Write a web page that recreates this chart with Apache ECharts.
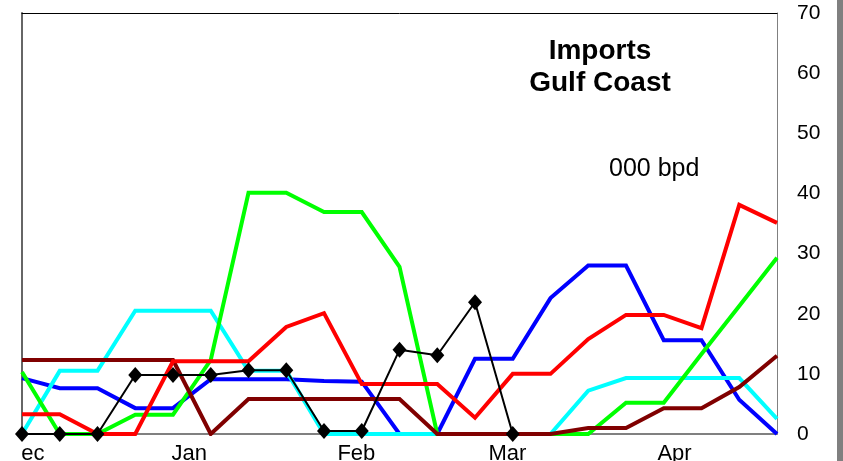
<!DOCTYPE html>
<html>
<head>
<meta charset="utf-8">
<script src="https://cdn.jsdelivr.net/npm/echarts@6/dist/echarts.min.js"></script>
<style>
  html, body { margin: 0; padding: 0; background: #fff; }
  #chart { width: 843px; height: 461px; }
</style>
</head>
<body>
<div id="chart"></div>
<script>
// weekly points, days after 1 Dec
const weekDays = [0, 7, 14, 21, 28, 35, 42, 49, 56, 63, 70, 77, 84, 91, 98, 105, 112, 119, 126, 133, 140];
// month tick labels (days) - the "D" of Dec is cut off in the original
const monthDays = [2, 31, 62, 90, 121];
const monthNames = ['ec', 'Jan', 'Feb', 'Mar', 'Apr'];

// 000 bpd
const blueVals = [9.3, 7.6, 7.6, 4.3, 4.3, 9.1, 9.1, 9.1, 8.8, 8.7, 0, 0, 12.5, 12.5, 22.6, 28, 28, 15.6, 15.6, 5.7, 0];
const cyanVals = [0, 10.5, 10.5, 20.5, 20.5, 20.5, 10.5, 10.5, 0, 0, 0, 0, 0, 0, 0, 7.2, 9.3, 9.3, 9.3, 9.3, 2.5];
const greenVals = [10.3, 0, 0, 3.2, 3.2, 12.3, 40.1, 40.1, 36.9, 36.9, 27.8, 0, 0, 0, 0, 0, 5.2, 5.2, 13.3, 21.3, 29.3];
const darkRedVals = [12.3, 12.3, 12.3, 12.3, 12.3, 0, 5.8, 5.8, 5.8, 5.8, 5.8, 0, 0, 0, 0, 1.0, 1.0, 4.3, 4.3, 7.8, 13.0];
const redVals = [3.3, 3.3, 0, 0, 12.1, 12.1, 12.1, 17.8, 20.1, 8.3, 8.3, 8.3, 2.7, 10.0, 10.0, 15.8, 19.8, 19.8, 17.6, 38.1, 35.1];
const blackVals = [0, 0, 0, 9.8, 9.8, 9.8, 10.6, 10.6, 0.5, 0.5, 14.0, 13.1, 21.9, 0, null, null, null, null, null, null, null];

const FONT = 'Liberation Sans, Arial, sans-serif';

function pairs(vals) {
  return weekDays.map((d, i) => [d, vals[i]]);
}

function lineSeries(name, vals, color) {
  return {
    name: name,
    type: 'line',
    data: pairs(vals),
    showSymbol: false,
    symbol: 'none',
    lineStyle: { color: color, width: 4, join: 'miter' },
    itemStyle: { color: color },
    animation: false
  };
}

const chart = echarts.init(document.getElementById('chart'));

chart.setOption({
  backgroundColor: '#fff',
  animation: false,
  title: {
    text: 'Imports\nGulf Coast',
    left: 600,
    top: 35,
    padding: 0,
    textAlign: 'center',
    textStyle: { fontFamily: FONT, fontSize: 28, fontWeight: 'bold', color: '#000', lineHeight: 32 }
  },
  graphic: [
    {
      type: 'text',
      left: 609,
      top: 157,
      style: { text: '000 bpd', fontFamily: FONT, fontSize: 25, fill: '#000' }
    },
    {
      type: 'rect',
      right: 0,
      top: 0,
      shape: { width: 6, height: 461 },
      style: { fill: '#808080' }
    }
  ],
  grid: { left: 22, right: 66, top: 13, bottom: 27, outerBoundsMode: 'none' },
  xAxis: [
    {
      type: 'value',
      min: 0,
      max: 140,
      position: 'bottom',
      axisLine: { show: true, onZero: false, lineStyle: { color: '#808080', width: 2 } },
      axisTick: { show: false },
      splitLine: { show: false },
      axisLabel: {
        customValues: monthDays,
        formatter: v => monthNames[monthDays.indexOf(v)],
        margin: 9,
        fontFamily: FONT,
        fontSize: 22,
        color: '#000'
      }
    },
    {
      type: 'value',
      min: 0,
      max: 140,
      position: 'top',
      axisLine: { show: true, onZero: false, lineStyle: { color: '#000', width: 1 } },
      axisTick: { show: false },
      splitLine: { show: false },
      axisLabel: { show: false }
    }
  ],
  yAxis: [
    {
      type: 'value',
      min: 0,
      max: 70,
      interval: 10,
      position: 'right',
      axisLine: { show: true, onZero: false, lineStyle: { color: '#808080', width: 1 } },
      axisTick: { show: false },
      splitLine: { show: false },
      axisLabel: { margin: 20, fontFamily: FONT, fontSize: 21, color: '#000' }
    },
    {
      type: 'value',
      min: 0,
      max: 70,
      position: 'left',
      axisLine: { show: true, onZero: false, lineStyle: { color: '#666', width: 2 } },
      axisTick: { show: false },
      splitLine: { show: false },
      axisLabel: { show: false }
    }
  ],
  series: [
    lineSeries('Blue', blueVals, '#0000ff'),
    lineSeries('Cyan', cyanVals, '#00ffff'),
    lineSeries('Green', greenVals, '#00ff00'),
    lineSeries('Dark red', darkRedVals, '#800000'),
    lineSeries('Red', redVals, '#ff0000'),
    {
      name: 'Black',
      type: 'line',
      data: pairs(blackVals),
      symbol: 'diamond',
      symbolSize: [14, 16],
      showAllSymbol: true,
      connectNulls: false,
      lineStyle: { color: '#000', width: 2 },
      itemStyle: { color: '#000' },
      animation: false
    }
  ]
});
</script>
</body>
</html>
